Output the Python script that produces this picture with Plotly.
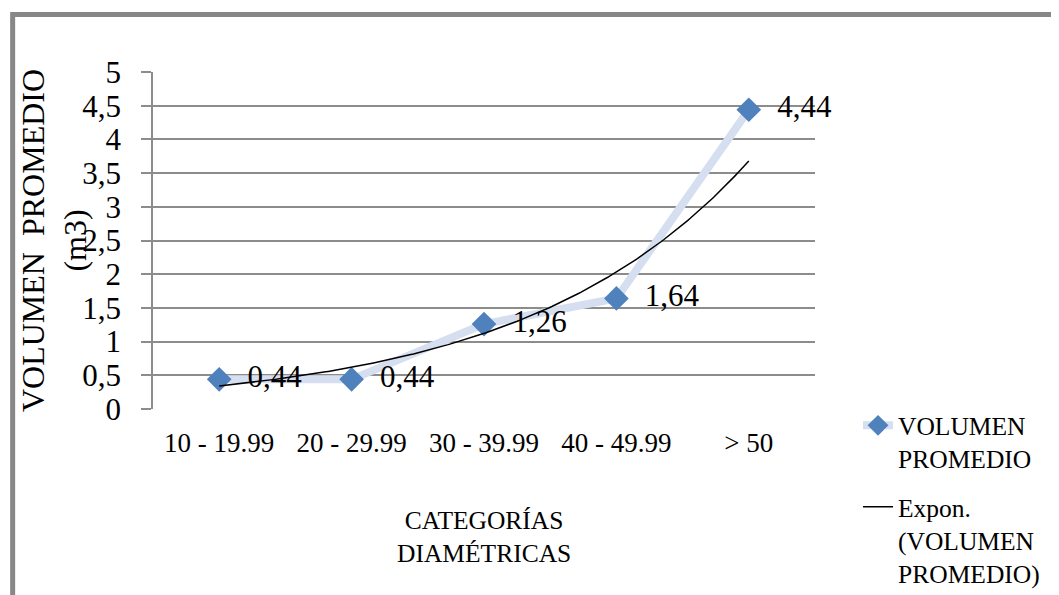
import numpy as np
import plotly.graph_objects as go

categories = ["10 - 19.99", "20 - 29.99", "30 - 39.99", "40 - 49.99", "> 50"]
volumen = [0.44, 0.44, 1.26, 1.64, 4.44]
y_ticks = [0, 0.5, 1, 1.5, 2, 2.5, 3, 3.5, 4, 4.5, 5]

xpos = np.arange(1, len(categories) + 1)
# Exponential trendline (least squares on log values, as in Excel)
b, ln_a = np.polyfit(xpos, np.log(volumen), 1)
xt = np.linspace(1, len(categories), 200)
yt = np.exp(ln_a) * np.exp(b * xt)

FONT = "Liberation Serif"

fig = go.Figure()
fig.add_trace(go.Scatter(
    x=xpos, y=volumen, mode="lines+markers+text",
    name="VOLUMEN<br>PROMEDIO", legendgroup="a",
    line=dict(color="#d5dff0", width=8),
    marker=dict(symbol="diamond", size=19, color="#4f81bd"),
    texttemplate="  %{y:.2f}", textposition="middle right",
    textfont=dict(family=FONT, size=31, color="black"),
    cliponaxis=False,
))
fig.add_trace(go.Scatter(
    x=xt, y=yt, mode="lines", legendgroup="b",
    name="Expon.<br>(VOLUMEN<br>PROMEDIO)",
    line=dict(color="black", width=1.5),
))

fig.update_layout(
    width=1059, height=595,
    margin=dict(l=145, r=252, t=64, b=194, autoexpand=False),
    paper_bgcolor="white", plot_bgcolor="white",
    separators=",.",
    font=dict(family=FONT, color="black"),
    xaxis=dict(
        range=[0.5, 5.5], tickmode="array", tickvals=list(xpos), ticktext=categories,
        tickfont=dict(family=FONT, size=27), showgrid=False, zeroline=False,
        showline=False, ticks="", ticklabelstandoff=15,
    ),
    yaxis=dict(
        range=[0, 5], tickmode="array", tickvals=y_ticks,
        tickfont=dict(family=FONT, size=31), showgrid=True, gridcolor="#8c8c8c", gridwidth=1.5,
        zeroline=False, showline=True, linecolor="#8c8c8c", linewidth=1.5,
        ticks="outside", ticklen=10, tickcolor="#8c8c8c", tickwidth=1.5,
        ticklabelstandoff=14,
    ),
    legend=dict(
        x=1.065, y=0.02, xanchor="left", yanchor="top",
        font=dict(family=FONT, size=25.5), tracegroupgap=12, traceorder="grouped",
        valign="top", bgcolor="rgba(0,0,0,0)",
    ),
    showlegend=True,
)
fig.add_annotation(
    text="VOLUMEN  PROMEDIO<br>(m3)", textangle=-90, xref="paper", yref="paper",
    x=-0.1503, y=0.5, xanchor="center", yanchor="middle", showarrow=False,
    font=dict(family=FONT, size=32, color="black"),
)
fig.add_annotation(
    text="CATEGORÍAS<br>DIAMÉTRICAS", xref="paper", yref="paper",
    x=0.5, y=-0.38, xanchor="center", yanchor="middle", showarrow=False,
    font=dict(family=FONT, size=25.5, color="black"),
)
# outer chart border
fig.add_shape(type="rect", xref="paper", yref="paper",
              x0=-0.212, x1=1.6, y0=-1.0, y1=1.1706,
              line=dict(color="#878787", width=5), layer="below")

fig.write_html("out.html")
